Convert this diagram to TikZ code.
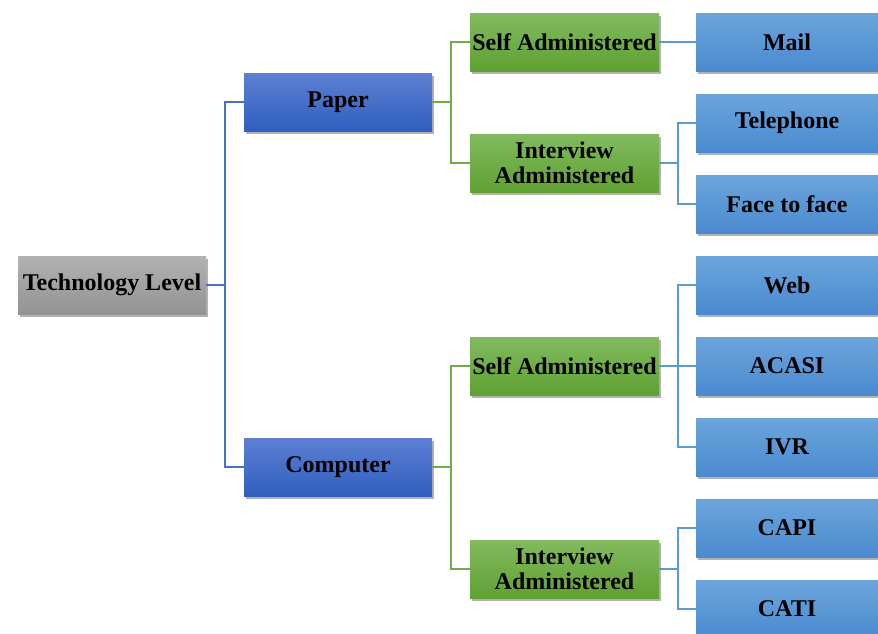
\documentclass[tikz,border=0pt]{standalone}
\usepackage{fontspec}
\setmainfont{Liberation Serif}
\usetikzlibrary{shadows}
\definecolor{grayTop}{HTML}{B2B2B2}
\definecolor{grayBot}{HTML}{939393}
\definecolor{blueTop}{HTML}{5D80D2}
\definecolor{blueBot}{HTML}{2F5FBF}
\definecolor{greenTop}{HTML}{82BA5E}
\definecolor{greenBot}{HTML}{5FA132}
\definecolor{leafTop}{HTML}{6CA5DC}
\definecolor{leafBot}{HTML}{4A8ACF}
\definecolor{lineBlue}{HTML}{4472C4}
\definecolor{lineGreen}{HTML}{70AD47}
\definecolor{lineLeaf}{HTML}{5B9BD5}

\begin{document}
\begin{tikzpicture}[
            x=1pt, y=-1pt,
            box/.style={rectangle, inner sep=0pt, minimum height=58pt, align=center,
                font=\fontsize{24}{25}\selectfont\bfseries,
                drop shadow={shadow xshift=2pt, shadow yshift=-3pt, opacity=0.3, fill=black}},
            root/.style={box, minimum width=188pt, top color=grayTop, bottom color=grayBot},
            mode/.style={box, minimum width=188pt, top color=blueTop, bottom color=blueBot},
            admin/.style={box, minimum width=189pt, top color=greenTop, bottom color=greenBot},
            leaf/.style={box, minimum width=182pt, top color=leafTop, bottom color=leafBot},
            link/.style={line width=2.5pt}
        ]
            \useasboundingbox (0,0) rectangle (878,633);
            \node[root] (tech) at (112, 285) {Technology Level};
            \node[mode] (paper) at (338, 102) {Paper};
            \node[mode] (comp) at (338, 467) {Computer};
            \node[admin] (pself) at (564.5, 42) {Self Administered};
            \node[admin] (pint) at (564.5, 163) {Interview\\Administered};
            \node[admin] (cself) at (564.5, 366) {Self Administered};
            \node[admin] (cint) at (564.5, 569) {Interview\\Administered};
            \node[leaf] (mail) at (787, 42) {Mail};
            \node[leaf] (tel) at (787, 123) {Telephone};
            \node[leaf] (face) at (787, 204) {Face to face};
            \node[leaf] (web) at (787, 285) {Web};
            \node[leaf] (acasi) at (787, 366) {ACASI};
            \node[leaf] (ivr) at (787, 447) {IVR};
            \node[leaf] (capi) at (787, 528) {CAPI};
            \node[leaf] (cati) at (787, 609) {CATI};
            \coordinate (b0) at (225, 285);
            \coordinate (b1) at (451, 102);
            \coordinate (b2) at (451, 467);
            \coordinate (b3) at (678, 163);
            \coordinate (b4) at (678, 366);
            \coordinate (b5) at (678, 569);
            \path[link, draw=lineBlue]
            (tech.east) -- (b0)
            (b0) |- (paper.west)
            (b0) |- (comp.west);
            \path[link, draw=lineGreen]
            (paper.east) -- (b1)
            (b1) |- (pself.west)
            (b1) |- (pint.west)
            (comp.east) -- (b2)
            (b2) |- (cself.west)
            (b2) |- (cint.west);
            \path[link, draw=lineLeaf]
            (pself.east) -- (mail.west)
            (pint.east) -- (b3)
            (b3) |- (tel.west)
            (b3) |- (face.west)
            (cself.east) -- (b4)
            (b4) |- (web.west)
            (b4) |- (acasi.west)
            (b4) |- (ivr.west)
            (cint.east) -- (b5)
            (b5) |- (capi.west)
            (b5) |- (cati.west);
        \end{tikzpicture}
\end{document}
